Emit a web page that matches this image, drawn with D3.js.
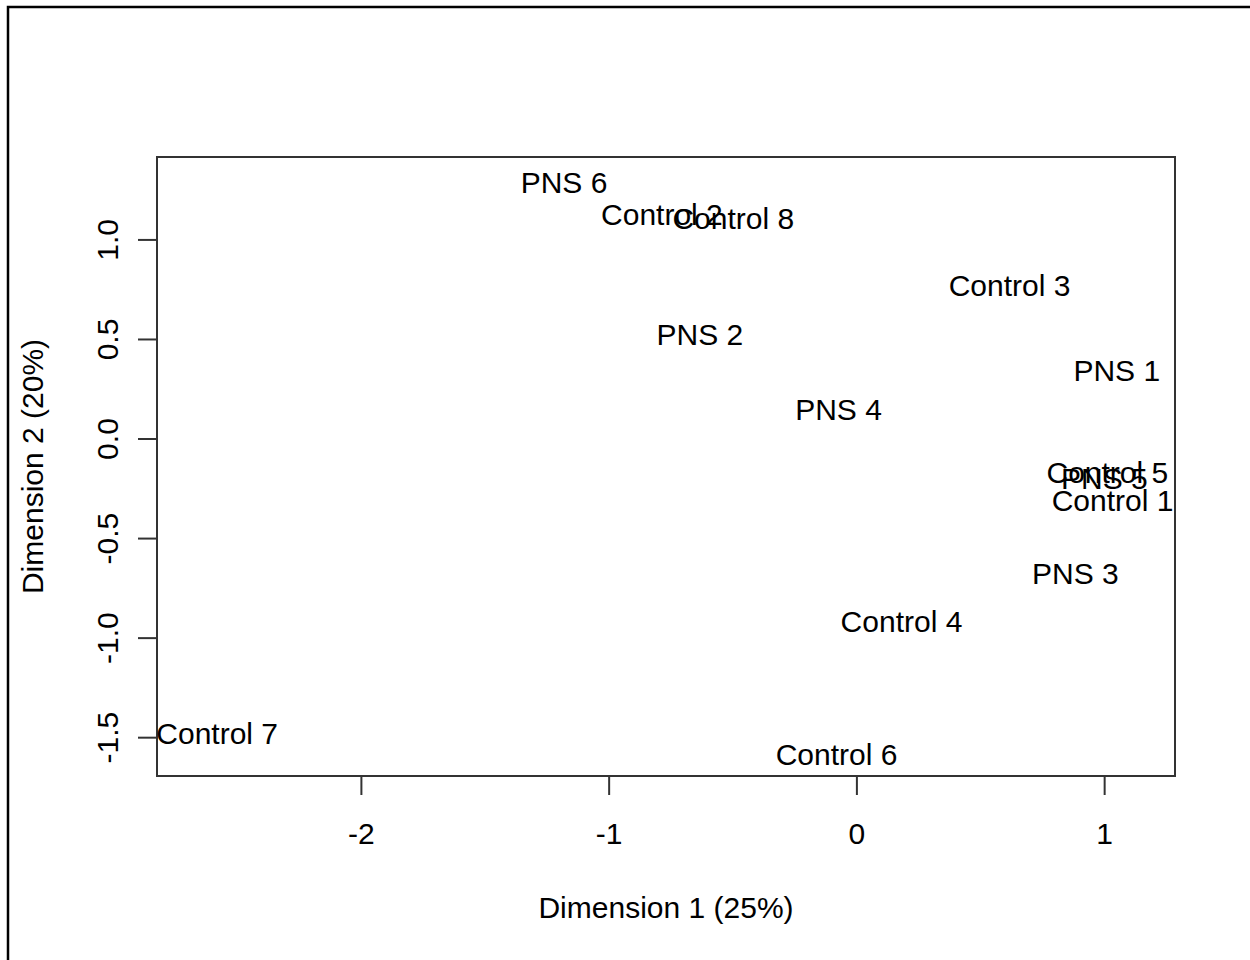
<!DOCTYPE html>
<html>
<head>
<meta charset="utf-8">
<script src="https://cdn.jsdelivr.net/npm/d3@7"></script>
<style>
  body { margin: 0; background: #fff; }
  text { font-family: "Liberation Sans", Arial, sans-serif; fill: #000; }
</style>
</head>
<body>
<script>
// MDS coordinates
const samples = ["PNS 6", "Control 2", "Control 8", "Control 3", "PNS 2", "PNS 1", "PNS 4",
    "Control 5", "PNS 5", "Control 1", "PNS 3", "Control 4", "Control 7", "Control 6"];
const dim1 = [-1.180, -0.785, -0.497, 0.618, -0.632, 1.051, -0.072,
    1.013, 1.001, 1.034, 0.884, 0.182, -2.580, -0.080];
const dim2 = [1.289, 1.128, 1.108, 0.772, 0.525, 0.344, 0.149,
    -0.169, -0.199, -0.309, -0.675, -0.916, -1.479, -1.584];
const xTicks = [-2, -1, 0, 1];
const yTicks = [-1.5, -1.0, -0.5, 0.0, 0.5, 1.0];

const w = 1250, h = 960;
const boxLeft = 157, boxRight = 1175, boxTop = 157, boxBottom = 776;

// R prints a plain hyphen as minus
const fmtX = function (d) { return String(d).replace("\u2212", "-"); };
const fmtY = function (d) { return d.toFixed(1); };

const svg = d3.select("body").append("svg")
    .attr("width", w)
    .attr("height", h);

// outer frame (only top and left edges show)
svg.append("rect")
    .attr("x", 8).attr("y", 7)
    .attr("width", w + 20).attr("height", h + 20)
    .attr("fill", "none")
    .attr("stroke", "#000")
    .attr("stroke-width", 2.5);

const xScale = d3.scaleLinear()
    .domain([-2.823, 1.286])
    .range([boxLeft, boxRight]);

const yScale = d3.scaleLinear()
    .domain([-1.695, 1.414])
    .range([boxBottom, boxTop]);

// bottom axis
const xAxis = svg.append("g")
    .attr("transform", "translate(0," + boxBottom + ")")
    .call(d3.axisBottom(xScale).tickValues(xTicks).tickSize(19).tickSizeOuter(0)
        .tickFormat(fmtX));

// left axis
const yAxis = svg.append("g")
    .attr("transform", "translate(" + boxLeft + ",0)")
    .call(d3.axisLeft(yScale).tickValues(yTicks).tickSize(19).tickSizeOuter(0)
        .tickFormat(fmtY));

[xAxis, yAxis].forEach(function (g) {
    g.select(".domain").remove();
    g.selectAll(".tick line").attr("stroke", "#333").attr("stroke-width", 2);
    g.selectAll(".tick text")
        .attr("font-family", "Liberation Sans, Arial, sans-serif")
        .attr("font-size", 30)
        .attr("fill", "#000");
});

// R axis line only spans the first to last tick
xAxis.append("line")
    .attr("x1", xScale(xTicks[0])).attr("x2", xScale(xTicks[xTicks.length - 1]))
    .attr("stroke", "#333").attr("stroke-width", 2);
yAxis.append("line")
    .attr("y1", yScale(yTicks[0])).attr("y2", yScale(yTicks[yTicks.length - 1]))
    .attr("stroke", "#333").attr("stroke-width", 2);

xAxis.selectAll(".tick text").attr("dy", null).attr("y", 0)
    .attr("transform", "translate(0,57)")
    .attr("dominant-baseline", "central");

yAxis.selectAll(".tick text")
    .attr("x", null).attr("dy", null)
    .attr("text-anchor", "middle")
    .attr("transform", "translate(-50,0) rotate(-90)")
    .attr("dominant-baseline", "central");

// plot box
svg.append("rect")
    .attr("x", boxLeft).attr("y", boxTop)
    .attr("width", boxRight - boxLeft).attr("height", boxBottom - boxTop)
    .attr("fill", "none")
    .attr("stroke", "#333")
    .attr("stroke-width", 2);

// sample labels
svg.append("g").selectAll("text")
    .data(samples)
    .enter()
    .append("text")
    .attr("x", function (d, i) { return xScale(dim1[i]); })
    .attr("y", function (d, i) { return yScale(dim2[i]); })
    .attr("dy", "0.36em")
    .attr("text-anchor", "middle")
    .attr("font-size", 30)
    .attr("textLength", function (d) { return null; })
    .text(function (d) { return d; });

// axis titles
svg.append("text")
    .attr("text-anchor", "middle")
    .attr("x", (boxLeft + boxRight) / 2)
    .attr("y", 907)
    .attr("dy", "0.36em")
    .attr("font-size", 30)
    .text("Dimension 1 (25%)");

svg.append("text")
    .attr("text-anchor", "middle")
    .attr("transform", "translate(32," + ((boxTop + boxBottom) / 2) + ") rotate(-90)")
    .attr("dy", "0.36em")
    .attr("font-size", 30)
    .text("Dimension 2 (20%)");
</script>
</body>
</html>
